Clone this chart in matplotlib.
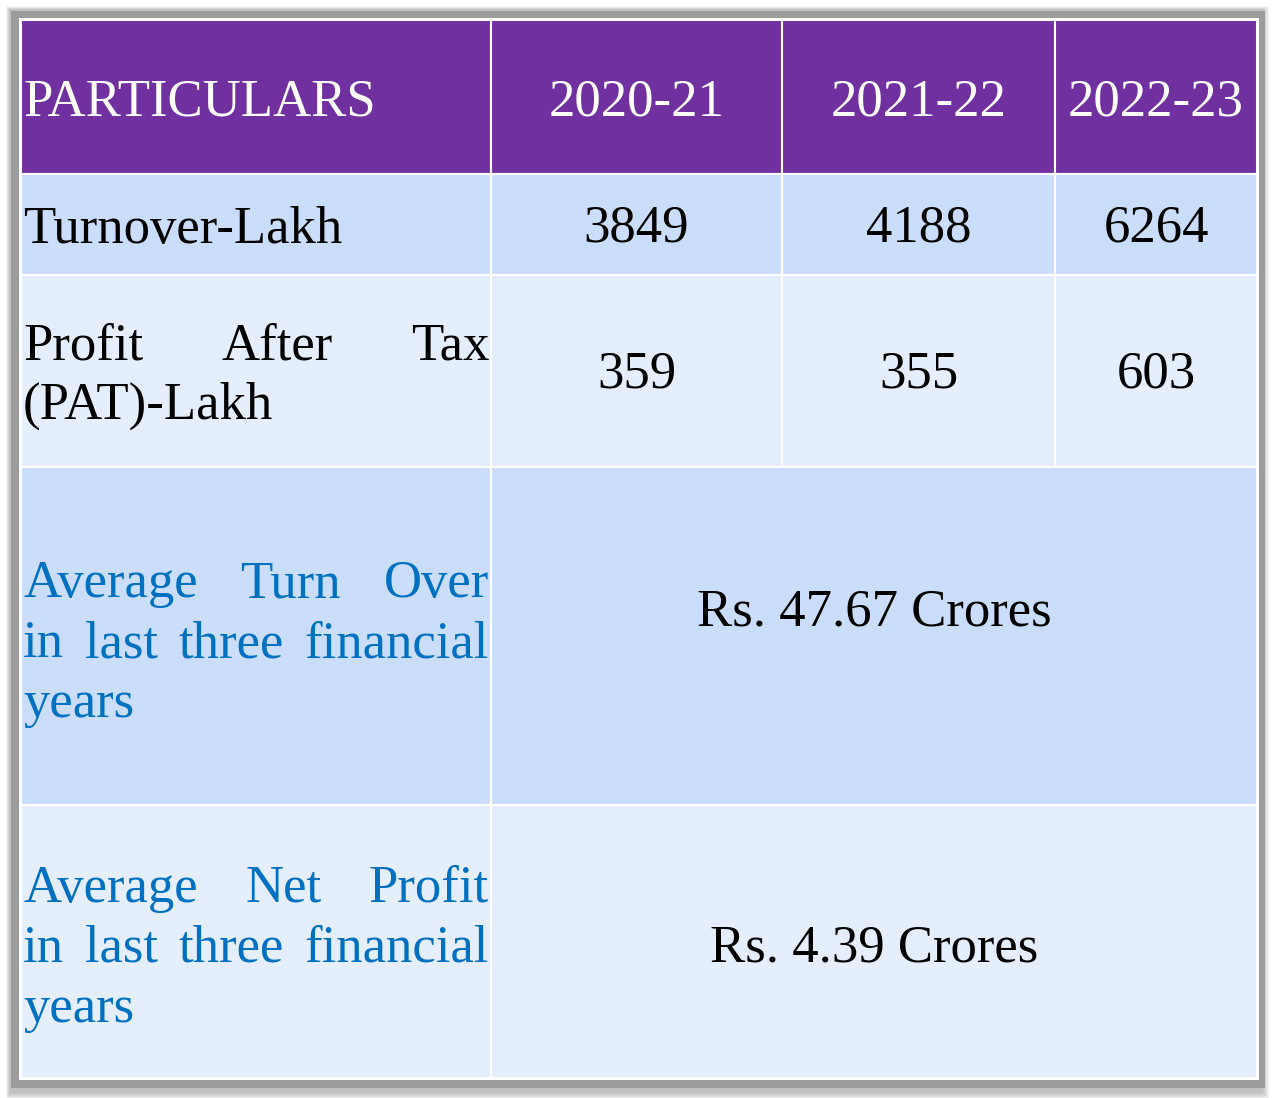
import matplotlib
matplotlib.use('Agg')
import matplotlib.pyplot as plt
from matplotlib.patches import Rectangle

# table content
years = ['2020-21', '2021-22', '2022-23']
turnover = [3849, 4188, 6264]
pat = [359, 355, 603]
row_labels = ['Turnover-Lakh', 'Profit After Tax (PAT)-Lakh']
avg_labels = ['Average Turn Over in last three financial years',
              'Average Net Profit in last three financial years']
avg_values = ['Rs. 47.67 Crores', 'Rs. 4.39 Crores']

W, H = 1280, 1098
FONT = 'Liberation Serif'
FS = 38
PURPLE = '#7030A0'
BLUE1 = '#CADEFC'
BLUE2 = '#E4EEFD'
TXT_BLUE = '#0070C0'
DY = 4  # nudge text down a bit

col_x = [21, 491, 782, 1055, 1257]
row_y = [20, 174, 275, 467, 805, 1078]

fig = plt.figure(figsize=(W / 100, H / 100), dpi=100)
ax = fig.add_axes([0, 0, 1, 1])
ax.set_xlim(0, W)
ax.set_ylim(H, 0)
ax.axis('off')

# soft grey shadow behind the table
for i in range(12):
    g = 12 - i
    ax.add_patch(Rectangle((10 - g * 0.3, 10 - g * 0.3), 1262 - 10 + g * 0.9, 1092 - 10 + g * 0.9,
                           facecolor='#909090', alpha=0.06, lw=0))
ax.add_patch(Rectangle((11, 11), 1257 - 11 + 8, 1078 - 11 + 10, facecolor='#9c9c9c', lw=0))
ax.add_patch(Rectangle((19, 18), 1240, 1062, facecolor='white', lw=0))


def cell(x0, x1, y0, y1, color):
    ax.add_patch(Rectangle((x0, y0), x1 - x0, y1 - y0, facecolor=color,
                           edgecolor='white', lw=1.5))


fig.canvas.draw()
renderer = fig.canvas.get_renderer()


def text_w(s, **kw):
    t = ax.text(0, 0, s, fontsize=FS, family=FONT, **kw)
    bb = t.get_window_extent(renderer)
    t.remove()
    return bb.width


def justified(words_lines, x0, x1, y0, dy, color):
    for li, line in enumerate(words_lines):
        y = y0 + li * dy + DY
        words = line.split()
        if li == len(words_lines) - 1 or len(words) == 1:
            ax.text(x0, y, line, fontsize=FS, family=FONT, color=color, va='center', ha='left')
            continue
        widths = [text_w(w) for w in words]
        gap = (x1 - x0 - sum(widths)) / (len(words) - 1)
        x = x0
        for w, wd in zip(words, widths):
            ax.text(x, y, w, fontsize=FS, family=FONT, color=color, va='center', ha='left')
            x += wd + gap


# header
for c in range(4):
    cell(col_x[c], col_x[c + 1], row_y[0], row_y[1], PURPLE)
ax.text(col_x[0] + 2, 98 + DY, 'PARTICULARS', fontsize=FS, family=FONT, color='white', va='center')
for c, yr in enumerate(years):
    ax.text((col_x[c + 1] + col_x[c + 2]) / 2, 98 + DY, yr, fontsize=FS, family=FONT,
            color='white', va='center', ha='center')

# value rows
for r, (vals, color) in enumerate([(turnover, BLUE1), (pat, BLUE2)]):
    for c in range(4):
        cell(col_x[c], col_x[c + 1], row_y[r + 1], row_y[r + 2], color)
    yc = (row_y[r + 1] + row_y[r + 2]) / 2 + DY
    for c, v in enumerate(vals):
        ax.text((col_x[c + 1] + col_x[c + 2]) / 2, yc, str(v), fontsize=FS, family=FONT,
                va='center', ha='center')

ax.text(col_x[0] + 2, 226 + DY, row_labels[0], fontsize=FS, family=FONT, va='center')
justified(['Profit After Tax', '(PAT)-Lakh'], col_x[0] + 2, col_x[1] - 2, 343, 59, 'black')

# average rows
avg_lines = [['Average Turn Over', 'in last three financial', 'years'],
             ['Average Net Profit', 'in last three financial', 'years']]
avg_text_y = [580, 885]
avg_val_y = [609, 944]
for r, color in enumerate([BLUE1, BLUE2]):
    y0, y1 = row_y[r + 3], row_y[r + 4]
    cell(col_x[0], col_x[1], y0, y1, color)
    cell(col_x[1], col_x[4], y0, y1, color)
    justified(avg_lines[r], col_x[0] + 2, col_x[1] - 2, avg_text_y[r], 60, TXT_BLUE)
    ax.text((col_x[1] + col_x[4]) / 2, avg_val_y[r] + DY, avg_values[r], fontsize=FS, family=FONT,
            va='center', ha='center')

fig.savefig('out.png', dpi=100)
